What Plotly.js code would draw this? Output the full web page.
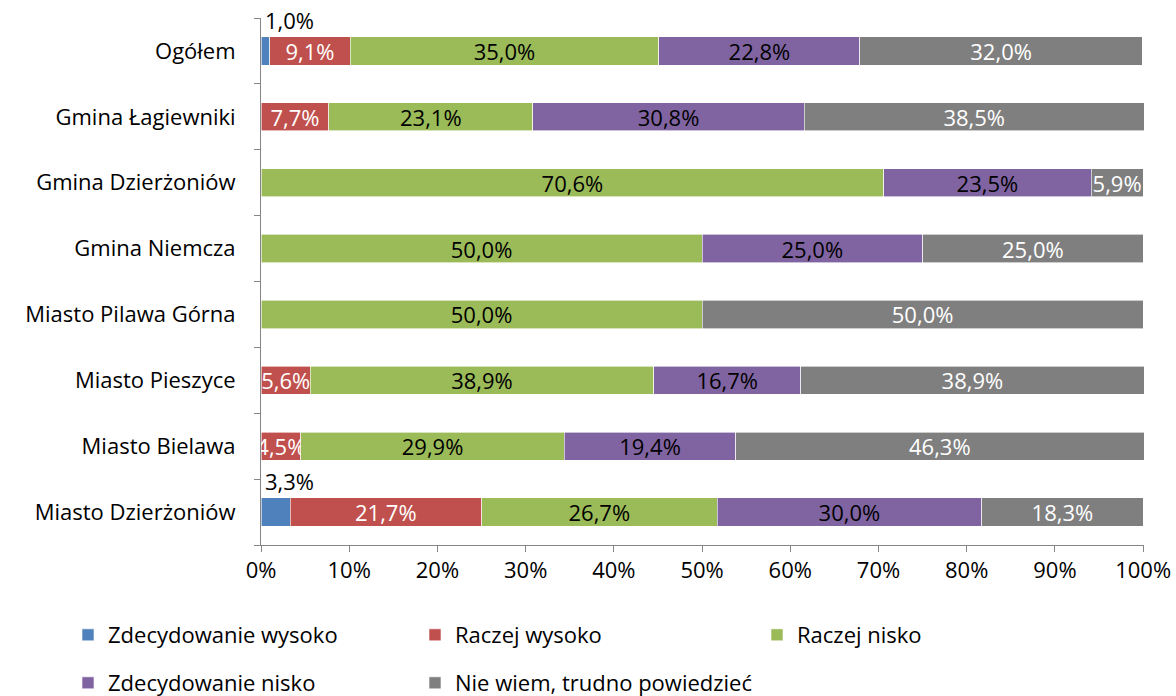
<!DOCTYPE html>
<html>
<head>
<meta charset="utf-8">
<script src="https://cdn.plot.ly/plotly-3.0.1.min.js"></script>
<style>html,body{margin:0;padding:0;background:#fff;}#chart{width:1176px;height:696px;}</style>
</head>
<body>
<div id="chart"></div>
<script>
const categories = ["Miasto Dzierżoniów", "Miasto Bielawa", "Miasto Pieszyce", "Miasto Pilawa Górna", "Gmina Niemcza", "Gmina Dzierżoniów", "Gmina Łagiewniki", "Ogółem"];
const seriesNames = ["Zdecydowanie wysoko", "Raczej wysoko", "Raczej nisko", "Zdecydowanie nisko", "Nie wiem, trudno powiedzieć"];
const zdecydowanieWysoko = [3.3, 0, 0, 0, 0, 0, 0, 1.0];
const raczejWysoko = [21.7, 4.5, 5.6, 0, 0, 0, 7.7, 9.1];
const raczejNisko = [26.7, 29.9, 38.9, 50.0, 50.0, 70.6, 23.1, 35.0];
const zdecydowanieNisko = [30.0, 19.4, 16.7, 0, 25.0, 23.5, 30.8, 22.8];
const nieWiem = [18.3, 46.3, 38.9, 50.0, 25.0, 5.9, 38.5, 32.0];
const xTicks = [0, 10, 20, 30, 40, 50, 60, 70, 80, 90, 100];

const colors = ["#4F81BD", "#C0504D", "#9BBB59", "#8064A2", "#7F7F7F"];
const textColors = ["#000", "#fff", "#000", "#000", "#fff"];
const allSeries = [zdecydowanieWysoko, raczejWysoko, raczejNisko, zdecydowanieNisko, nieWiem];
const legendIds = ['legend', 'legend2', 'legend3', 'legend4', 'legend5'];
const FONT = "'Open Sans', sans-serif";
const FS = 22;
const fmt = v => v.toFixed(1).replace('.', ',') + '%';

const traces = allSeries.map((vals, i) => ({
  type: 'bar',
  orientation: 'h',
  name: seriesNames[i],
  y: categories,
  x: vals,
  marker: {color: colors[i], line: {color: '#ffffff', width: 0.6}},
  text: vals.map(v => (i === 0 || v === 0) ? '' : fmt(v)),
  textposition: 'inside',
  insidetextanchor: 'middle',
  textangle: 0,
  constraintext: 'none',
  cliponaxis: false,
  textfont: {family: FONT, size: FS, color: textColors[i]},
  hoverinfo: 'name+x',
  legend: legendIds[i]
}));

const annotations = [];
zdecydowanieWysoko.forEach((v, k) => {
  if (v > 0) {
    annotations.push({
      x: 0, y: categories[k], xref: 'x', yref: 'y',
      text: fmt(v), showarrow: false, xanchor: 'left', yanchor: 'middle',
      xshift: 2, yshift: 31,
      font: {family: FONT, size: FS, color: '#000'}
    });
  }
});

// legend positions (container px): [legend-left x, row center y]
const legendPos = [[68, 635], [415, 635], [757, 635], [68, 683], [415, 683]];
const legends = {};
legendIds.forEach((id, i) => {
  legends[id] = {
    orientation: 'v', xref: 'container', yref: 'container',
    x: legendPos[i][0] / 1176, y: 1 - legendPos[i][1] / 696,
    xanchor: 'left', yanchor: 'middle', itemwidth: 30,
    font: {family: FONT, size: FS, color: '#000'},
    bgcolor: 'rgba(0,0,0,0)'
  };
});

const layout = Object.assign({
  width: 1176, height: 696,
  margin: {l: 261, r: 32, t: 18, b: 151, autoexpand: false},
  barmode: 'stack',
  bargap: 0.57,
  separators: ', ',
  showlegend: true,
  paper_bgcolor: '#fff', plot_bgcolor: '#fff',
  font: {family: FONT, size: FS, color: '#000'},
  xaxis: {
    range: [0, 100.1], tickvals: xTicks, ticktext: xTicks.map(t => t + '%'),
    showgrid: false, zeroline: false, showline: true, linecolor: '#868686', linewidth: 1,
    ticks: 'outside', ticklen: 6, tickcolor: '#868686', automargin: false,
    tickfont: {family: FONT, size: FS, color: '#000'}, fixedrange: true
  },
  yaxis: {
    categoryorder: 'array', categoryarray: categories, range: [-0.5, categories.length - 0.5],
    showgrid: false, zeroline: false, showline: true, linecolor: '#868686', linewidth: 1,
    ticks: 'outside', ticklen: 6, tickcolor: '#868686', tickson: 'boundaries', automargin: false,
    tickfont: {family: FONT, size: FS, color: '#000'}, ticklabelstandoff: 20, fixedrange: true
  },
  annotations: annotations
}, legends);

Plotly.newPlot('chart', traces, layout, {displayModeBar: false, staticPlot: true});
</script>
</body>
</html>
